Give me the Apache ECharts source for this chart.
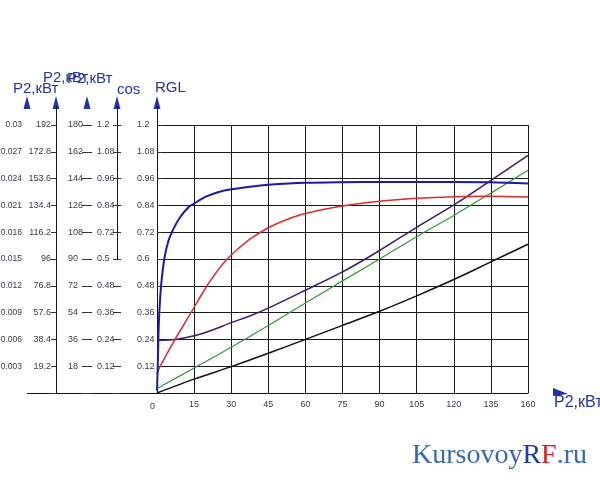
<!DOCTYPE html>
<html lang="ru">
<head>
<meta charset="UTF-8">
<script src="https://cdn.jsdelivr.net/npm/echarts@6/dist/echarts.min.js"></script>
<title>Рабочие характеристики</title>
<style>
  html, body { margin: 0; padding: 0; background: #fff; }
</style>
</head>
<body>
<div id="main" style="width:600px;height:480px;"></div>
<script>
// ось X (последняя метка подписана 160)
var xTickLabels = ['0', '15', '30', '45', '60', '75', '90', '105', '120', '135', '160'];

// метки левых шкал, снизу вверх (0 не подписан)
var p2aLabels = ['', '0.003', '0.006', '0.009', '0.012', '0.015', '0.018', '0.021', '0.024', '0.027', '0.03'];
var p2bLabels = ['', '19.2', '38.4', '57.6', '76.8', '96', '116.2', '134.4', '153.6', '172.8', '192'];
var p2cLabels = ['', '18', '36', '54', '72', '90', '108', '126', '144', '162', '180'];
var cosLabels = ['', '0.12', '0.24', '0.36', '0.48', '0.5', '0.72', '0.84', '0.96', '1.08', '1.2'];
var rglLabels = ['', '0.12', '0.24', '0.36', '0.48', '0.6', '0.72', '0.84', '0.96', '1.08', '1.2'];
var axisMax = [0.03, 192, 180, 1.2, 1.2];
var axisTitles = ['P2,кВт', 'P2,кВт', 'P2,кВт', 'cos', 'RGL'];

// кривые, [P2, значение по шкале RGL]
var blueData = [[0, 0.01], [0.3, 0.12], [0.7, 0.3], [1.3, 0.43], [2, 0.52], [3.1, 0.61], [4.7, 0.684],
  [6.7, 0.736], [9.4, 0.788], [12.8, 0.833], [15, 0.848], [19.5, 0.878], [25, 0.9], [30, 0.912],
  [38.4, 0.925], [45, 0.932], [60, 0.941], [75, 0.944], [90, 0.945], [105, 0.945], [120, 0.945],
  [135, 0.944], [150, 0.938]];
var redData = [[0, 0.085], [1.3, 0.12], [7, 0.235], [13.5, 0.355], [19.5, 0.468], [24, 0.54],
  [28, 0.595], [32, 0.638], [38, 0.692], [45, 0.74], [52.5, 0.777], [60, 0.804], [75, 0.837],
  [90, 0.859], [105, 0.872], [120, 0.879], [135, 0.881], [150, 0.878]];
var purpleData = [[0, 0.236], [7.5, 0.24], [15, 0.256], [22.5, 0.282], [30, 0.315], [37.5, 0.345],
  [45, 0.38], [60, 0.46], [75, 0.542], [90, 0.638], [105, 0.742], [120, 0.842], [135, 0.952], [150, 1.064]];
var greenData = [[0, 0.02], [15, 0.112], [30, 0.205], [45, 0.302], [60, 0.403], [75, 0.502],
  [90, 0.6], [105, 0.7], [120, 0.795], [135, 0.895], [150, 0.997]];
var blackData = [[0, 0], [15, 0.062], [30, 0.118], [45, 0.178], [60, 0.24], [75, 0.303],
  [90, 0.366], [105, 0.435], [120, 0.508], [135, 0.587], [150, 0.666]];

var chart = echarts.init(document.getElementById('main'));
var FONT = 'Liberation Sans, Arial, sans-serif';
var BLUE = '#2233aa';
var G = {left: 157, right: 72, top: 125, bottom: 87, outerBoundsMode: 'none'};
var plotRight = 600 - G.right, plotBottom = 480 - G.bottom;

function fmt(labels, max) {
  return function (v) { return labels[Math.round(v / max * 10)] || ''; };
}

function yAx(i, offset, labels, opt) {
  var a = {
    type: 'value', position: 'left', offset: offset,
    min: 0, max: axisMax[i], interval: axisMax[i] / 10,
    axisLine: {show: opt.line, lineStyle: {color: '#111', width: 1}},
    axisTick: {show: opt.tick > 0, inside: !!opt.inside, length: opt.tick || 5, lineStyle: {color: '#333'}},
    axisLabel: {
      formatter: fmt(labels, axisMax[i]), margin: opt.margin, align: opt.align,
      fontSize: opt.fs || 9, fontFamily: FONT, color: '#3a3a4a', padding: [0, 0, 7, 0]
    },
    splitLine: {show: false}
  };
  return a;
}

var yAxes = [
  yAx(0, 130, p2aLabels, {line: false, tick: 5, inside: true, margin: 5, align: 'right', fs: 8.5}),
  yAx(1, 101, p2bLabels, {line: true, tick: 5, margin: 5, align: 'right'}),
  yAx(2, 65, p2cLabels, {line: false, tick: 10, margin: 24, align: 'left'}),
  yAx(3, 36, cosLabels, {line: false, tick: 8, margin: 24, align: 'left'}),
  yAx(4, 0, rglLabels, {line: true, tick: 0, margin: 20, align: 'left'})
];
yAxes[4].splitLine = {show: true, lineStyle: {color: '#1a1a1a', width: 1}};

function mkLine(name, data, color, w) {
  return {
    name: name, type: 'line', xAxisIndex: 0, yAxisIndex: 4, data: data,
    smooth: 0.3, symbol: 'none', animation: false,
    lineStyle: {color: color, width: w}
  };
}

var option = {
  animation: false,
  grid: G,
  xAxis: {
    type: 'value', min: 0, max: 150, interval: 15,
    axisLine: {show: true, lineStyle: {color: '#111', width: 1}},
    axisTick: {show: false},
    axisLabel: {
      margin: 7, fontSize: 9, fontFamily: FONT, color: '#3a3a4a',
      formatter: function (v) {
        var s = xTickLabels[Math.round(v / 15)];
        return v === 0 ? '{z|' + s + '}' : s;
      },
      rich: {z: {fontSize: 9, fontFamily: FONT, color: '#3a3a4a', padding: [2, 9, 0, 0]}}
    },
    splitLine: {show: true, lineStyle: {color: '#1a1a1a', width: 1}}
  },
  yAxis: yAxes,
  series: [
    mkLine('black', blackData, '#111111', 1.5),
    mkLine('green', greenData, '#2e9a3a', 1.2),
    mkLine('purple', purpleData, '#3c1a6e', 1.5),
    mkLine('red', redData, '#e02a2a', 1.5),
    mkLine('blue', blueData, '#1a1aa8', 2)
  ]
};
chart.setOption(option);

// стрелки, продолжения осей и подписи
var arrowX = [27, 56, 87, 117, 157];
var titlePos = [[13, 89], [43, 78], [67, 79], [117, 90], [155, 88]];
var gr = [];
arrowX.forEach(function (x, i) {
  gr.push({type: 'polygon', shape: {points: [[x, 96], [x - 3.5, 109], [x + 3.5, 109]]}, style: {fill: BLUE}});
  gr.push({type: 'text', left: titlePos[i][0], top: titlePos[i][1] - 8,
    style: {text: axisTitles[i], fill: BLUE, font: '15px ' + FONT}});
});
gr.push({type: 'line', shape: {x1: 56.5, y1: 106, x2: 56.5, y2: G.top}, style: {stroke: '#111', lineWidth: 1}});
gr.push({type: 'line', shape: {x1: 157.5, y1: 106, x2: 157.5, y2: G.top}, style: {stroke: '#111', lineWidth: 1}});
var cosY = chart.convertToPixel({yAxisIndex: 3}, 0.6);
gr.push({type: 'line', shape: {x1: 117.5, y1: 106, x2: 117.5, y2: cosY}, style: {stroke: '#111', lineWidth: 1}});
gr.push({type: 'line', shape: {x1: 27, y1: plotBottom + 0.5, x2: G.left, y2: plotBottom + 0.5}, style: {stroke: '#111', lineWidth: 1}});
gr.push({type: 'polygon', shape: {points: [[553, 388], [568, 394], [553, 396]]}, style: {fill: BLUE}});
gr.push({type: 'text', left: 554, top: 395, style: {text: 'P2,кВт', fill: BLUE, font: '16px ' + FONT}});
gr.push({type: 'text', left: 412, top: 442, style: {
  text: '{a|Kursovoy}{b|R}{c|F}{a|.ru}',
  rich: {
    a: {fill: '#3a67b5', font: '28px Liberation Serif, serif'},
    b: {fill: '#1d3aa6', font: '28px Liberation Serif, serif'},
    c: {fill: '#d42424', font: '28px Liberation Serif, serif'}
  }
}});
chart.setOption({graphic: gr});
</script>
</body>
</html>
